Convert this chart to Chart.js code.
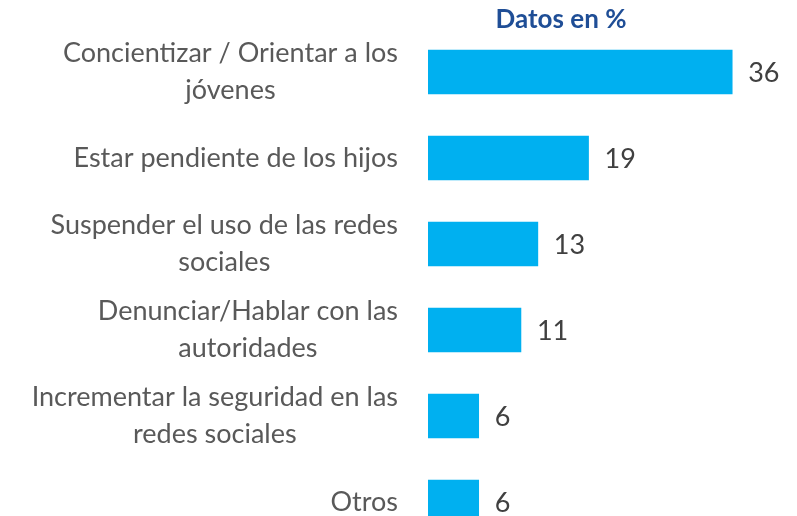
<!DOCTYPE html>
<html>
<head>
<meta charset="utf-8">
<script src="https://cdn.jsdelivr.net/npm/chart.js@4"></script>
<style>
  html, body { margin: 0; padding: 0; background: #ffffff; overflow: hidden; }
  #wrap { position: relative; width: 797px; height: 560px; }
</style>
</head>
<body>
<div id="wrap"><canvas id="c"></canvas></div>
<script>
const categories = [
  ["Concientizar / Orientar a los", "jóvenes"],
  ["Estar pendiente de los hijos"],
  ["Suspender el uso de las redes", "sociales"],
  ["Denunciar/Hablar con las", "autoridades"],
  ["Incrementar la seguridad en las", "redes sociales"],
  ["Otros"]
];
const values = [36, 19, 13, 11, 6, 6];
const titleText = "Datos en %";

const FONT = "Lato, 'Open Sans', sans-serif";
const LABEL_SIZE = 27;
const LINE_H = 37;

const labelPlugin = {
  id: 'customText',
  afterDraw(chart) {
    const ctx = chart.ctx;
    const yScale = chart.scales.y;
    const meta = chart.getDatasetMeta(0);
    ctx.save();
    // category labels
    ctx.font = LABEL_SIZE + "px " + FONT;
    ctx.fillStyle = "#595959";
    ctx.textAlign = "center";
    ctx.textBaseline = "middle";
    const rightEdge = 398;
    categories.forEach((lines, i) => {
      const cy = yScale.getPixelForValue(i);
      const maxW = Math.max(...lines.map(l => ctx.measureText(l).width));
      const cx = rightEdge - maxW / 2;
      const startY = cy - (lines.length - 1) * LINE_H / 2;
      lines.forEach((l, j) => ctx.fillText(l, cx, startY + j * LINE_H));
    });
    // value labels
    ctx.font = "27px " + FONT;
    ctx.fillStyle = "#404040";
    ctx.textAlign = "left";
    meta.data.forEach((bar, i) => {
      ctx.fillText(String(values[i]), bar.x + 16, bar.y + 1);
    });
    // title
    ctx.font = "bold 26px " + FONT;
    ctx.fillStyle = "#1F4E96";
    ctx.textAlign = "center";
    ctx.textBaseline = "alphabetic";
    ctx.fillText(titleText, 561, 28);
    ctx.restore();
  }
};

new Chart(document.getElementById('c'), {
  type: 'bar',
  data: {
    labels: categories,
    datasets: [{
      data: values,
      backgroundColor: '#00B0F0',
      borderWidth: 0,
      barThickness: 44
    }]
  },
  options: {
    indexAxis: 'y',
    responsive: true,
    maintainAspectRatio: false,
    animation: false,
    layout: { padding: { top: 29, bottom: 15, left: 0, right: 31 } },
    plugins: { legend: { display: false }, tooltip: { enabled: false }, title: { display: false } },
    scales: {
      x: { display: false, min: 0, max: 40 },
      y: {
        display: true,
        offset: true,
        grid: { display: false },
        border: { display: false },
        ticks: { display: false },
        afterFit(s) { s.width = 428; }
      }
    }
  },
  plugins: [labelPlugin]
});
</script>
</body>
</html>
